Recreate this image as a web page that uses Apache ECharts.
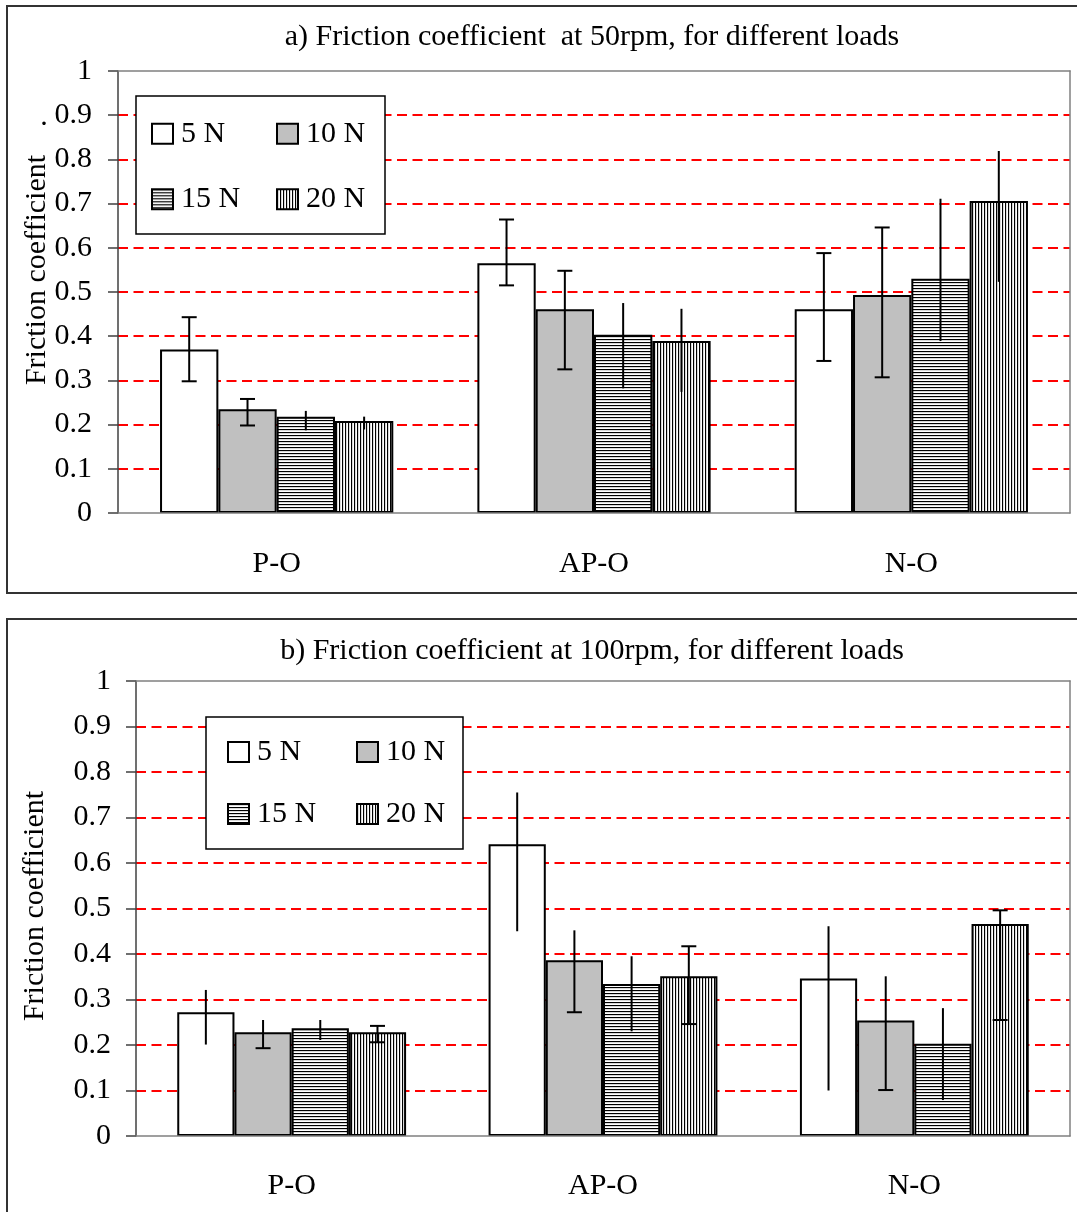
<!DOCTYPE html>
<html>
<head>
<meta charset="utf-8">
<script src="https://cdn.jsdelivr.net/npm/echarts@6/dist/echarts.min.js"></script>
<style>
  html, body { margin: 0; padding: 0; background: #fff; }
  #chart { width: 1077px; height: 1212px; }
</style>
</head>
<body>
<div id="chart"></div>
<script>
// ---------- data ----------
const categories = ['P-O', 'AP-O', 'N-O'];
const loads = ['5 N', '10 N', '15 N', '20 N'];

// (a) 50 rpm : mean values per load, across categories
const a50_5N  = [0.370, 0.565, 0.461];
const a50_10N = [0.235, 0.461, 0.493];
const a50_15N = [0.218, 0.403, 0.530];
const a50_20N = [0.208, 0.389, 0.706];
// (a) error bar ends
const a50_5N_lo  = [0.298, 0.515, 0.344];
const a50_5N_hi  = [0.443, 0.664, 0.588];
const a50_10N_lo = [0.198, 0.325, 0.307];
const a50_10N_hi = [0.258, 0.548, 0.646];
const a50_15N_lo = [0.187, 0.282, 0.389];
const a50_15N_hi = [0.231, 0.475, 0.711];
const a50_20N_lo = [0.189, 0.274, 0.523];
const a50_20N_hi = [0.218, 0.462, 0.819];

// (b) 100 rpm : mean values
const b100_5N  = [0.272, 0.641, 0.346];
const b100_10N = [0.228, 0.386, 0.254];
const b100_15N = [0.237, 0.334, 0.203];
const b100_20N = [0.228, 0.351, 0.466];
// (b) error bar ends
const b100_5N_lo  = [0.201, 0.450, 0.100];
const b100_5N_hi  = [0.321, 0.755, 0.461];
const b100_10N_lo = [0.193, 0.272, 0.101];
const b100_10N_hi = [0.255, 0.452, 0.351];
const b100_15N_lo = [0.211, 0.230, 0.079];
const b100_15N_hi = [0.255, 0.395, 0.281];
const b100_20N_lo = [0.206, 0.246, 0.255];
const b100_20N_hi = [0.242, 0.417, 0.496];

const titleA = 'a) Friction coefficient  at 50rpm, for different loads';
const titleB = 'b) Friction coefficient at 100rpm, for different loads';
const yName = 'Friction coefficient';

// ---------- styles ----------
const FONT = '"Liberation Serif", "Times New Roman", serif';
const GAP = 0.265;

function stripes(horizontal) {
  const c = document.createElement('canvas');
  c.width = 3; c.height = 3;
  const g = c.getContext('2d');
  g.fillStyle = '#fff'; g.fillRect(0, 0, 3, 3);
  g.fillStyle = '#000';
  if (horizontal) g.fillRect(0, 0, 3, 1); else g.fillRect(0, 0, 1, 3);
  g.fillStyle = '#b0b0b0';
  if (horizontal) g.fillRect(0, 1, 3, 0.5); else g.fillRect(1, 0, 0.5, 3);
  return c;
}
const fills = [
  '#ffffff',
  '#c0c0c0',
  { image: stripes(true), repeat: 'repeat' },
  { image: stripes(false), repeat: 'repeat' }
];
// which error bars show caps [top, bottom] per load
const capsA = [[true, true], [true, true], [false, false], [false, false]];
const capsB = [[false, false], [false, true], [false, false], [true, true]];

const meansA = [a50_5N, a50_10N, a50_15N, a50_20N];
const losA = [a50_5N_lo, a50_10N_lo, a50_15N_lo, a50_20N_lo];
const hisA = [a50_5N_hi, a50_10N_hi, a50_15N_hi, a50_20N_hi];
const meansB = [b100_5N, b100_10N, b100_15N, b100_20N];
const losB = [b100_5N_lo, b100_10N_lo, b100_15N_lo, b100_20N_lo];
const hisB = [b100_5N_hi, b100_10N_hi, b100_15N_hi, b100_20N_hi];

function xAxis(gi, margin) {
  return {
    type: 'category', gridIndex: gi, data: categories, z: 3,
    axisLine: { lineStyle: { color: '#808080', width: 1.5 } },
    axisTick: { length: 10, lineStyle: { color: '#808080', width: 1.5 } },
    axisLabel: { color: '#000', fontSize: 30, fontFamily: FONT, margin: margin },
    splitLine: { show: false }
  };
}
function xAxisTop(gi) {
  return {
    type: 'category', gridIndex: gi, data: categories, position: 'top', z: 3,
    axisLine: { onZero: false, lineStyle: { color: '#808080', width: 1.5 } },
    axisTick: { show: false }, axisLabel: { show: false }, splitLine: { show: false }
  };
}
function yAxis(gi, margin) {
  return {
    type: 'value', gridIndex: gi, min: 0, max: 1, interval: 0.1, z: 1,
    axisLine: { show: true, onZero: false, lineStyle: { color: '#404040', width: 1.5 } },
    axisTick: { show: true, length: 10, lineStyle: { color: '#404040', width: 1.5 } },
    axisLabel: { color: '#000', fontSize: 30, fontFamily: FONT, margin: margin, padding: [4, 0, 0, 0] },
    splitLine: { show: true, showMinLine: false, showMaxLine: false,
      lineStyle: { color: '#ff0000', type: [10, 5.5], width: 1.8 } }
  };
}
function yAxisRight(gi) {
  return {
    type: 'value', gridIndex: gi, min: 0, max: 1, interval: 0.1, position: 'right', z: 3,
    axisLine: { show: true, onZero: false, lineStyle: { color: '#808080', width: 1.5 } },
    axisTick: { show: false }, axisLabel: { show: false }, splitLine: { show: false }
  };
}

function barSeries(gi, means) {
  return loads.map((name, k) => ({
    type: 'bar', name: name, xAxisIndex: gi, yAxisIndex: gi,
    data: means[k], barGap: '0%', barCategoryGap: (GAP * 100) + '%',
    itemStyle: { color: fills[k], borderColor: '#000', borderWidth: 2 },
    emphasis: { disabled: true }, z: 2
  }));
}

function errSeries(gi, los, his, caps) {
  const data = [];
  for (let k = 0; k < 4; k++) for (let i = 0; i < categories.length; i++) data.push([i, los[k][i], his[k][i], k]);
  return {
    type: 'custom', name: 'err' + gi, xAxisIndex: gi, yAxisIndex: gi, z: 5,
    encode: { x: 0, y: [1, 2] }, data: data, silent: true,
    renderItem: function (params, api) {
      const i = api.value(0), lo = api.value(1), hi = api.value(2), k = api.value(3);
      const band = api.size([1, 0])[0];
      const bw = band * (1 - GAP) / 4;
      const x = api.coord([i, 0])[0] + (k - 1.5) * bw;
      const yh = api.coord([i, hi])[1];
      const yl = api.coord([i, lo])[1];
      const st = { stroke: '#000', lineWidth: 2 };
      const ch = [{ type: 'line', shape: { x1: x, y1: yh, x2: x, y2: yl }, style: st }];
      const c = caps[k], hw = 7.5;
      if (c[0]) ch.push({ type: 'line', shape: { x1: x - hw, y1: yh, x2: x + hw, y2: yh }, style: st });
      if (c[1]) ch.push({ type: 'line', shape: { x1: x - hw, y1: yl, x2: x + hw, y2: yl }, style: st });
      return { type: 'group', children: ch };
    }
  };
}

function legend(left, top, padding, gap, lh) {
  return {
    data: loads, left: left, top: top, width: 250, orient: 'horizontal',
    icon: 'rect', itemWidth: 21, itemHeight: 20, itemGap: gap,
    padding: padding,
    backgroundColor: '#fff', borderColor: '#000', borderWidth: 1.5,
    itemStyle: { borderColor: '#000', borderWidth: 2 },
    textStyle: { color: '#000', fontSize: 30, fontFamily: FONT, width: 67, lineHeight: lh, padding: [0, 0, 0, 3] },
    selectedMode: false
  };
}

const chart = echarts.init(document.getElementById('chart'), null, { renderer: 'canvas' });
chart.setOption({
  animation: false,
  backgroundColor: '#fff',
  title: [
    { text: titleA, left: 592, top: 22, textAlign: 'center', padding: 0,
      textStyle: { color: '#000', fontSize: 30, fontWeight: 'normal', fontFamily: FONT } },
    { text: titleB, left: 592, top: 636, textAlign: 'center', padding: 0,
      textStyle: { color: '#000', fontSize: 30, fontWeight: 'normal', fontFamily: FONT } }
  ],
  grid: [
    { left: 118, top: 71, width: 952, height: 442 },
    { left: 136, top: 681, width: 934, height: 455 }
  ],
  xAxis: [xAxis(0, 36), xAxis(1, 35), xAxisTop(0), xAxisTop(1)],
  yAxis: [yAxis(0, 26), yAxis(1, 25), yAxisRight(0), yAxisRight(1)],
  legend: [
    legend(136, 96, [19, 12, 16, 15], 28, 37.5),
    legend(206, 717, [20, 10, 20, 21], 32, 29)
  ],
  series: [].concat(
    barSeries(0, meansA), barSeries(1, meansB),
    [errSeries(0, losA, hisA, capsA), errSeries(1, losB, hisB, capsB)]
  ),
  graphic: [
    { type: 'rect', shape: { x: 7, y: 6, width: 1090, height: 587 }, style: { fill: 'none', stroke: '#333', lineWidth: 2 }, silent: true },
    { type: 'rect', shape: { x: 7, y: 619, width: 1090, height: 620 }, style: { fill: 'none', stroke: '#333', lineWidth: 2 }, silent: true },
    { type: 'text', x: 37, y: 270, rotation: Math.PI / 2,
      style: { text: yName, fill: '#000', font: '30px ' + FONT, align: 'center', verticalAlign: 'middle' }, silent: true },
    { type: 'text', x: 35.5, y: 906, rotation: Math.PI / 2,
      style: { text: yName, fill: '#000', font: '30px ' + FONT, align: 'center', verticalAlign: 'middle' }, silent: true },
    { type: 'text', x: 44, y: 117,
      style: { text: '.', fill: '#000', font: '30px ' + FONT, align: 'center', verticalAlign: 'middle' }, silent: true }
  ]
});
</script>
</body>
</html>
